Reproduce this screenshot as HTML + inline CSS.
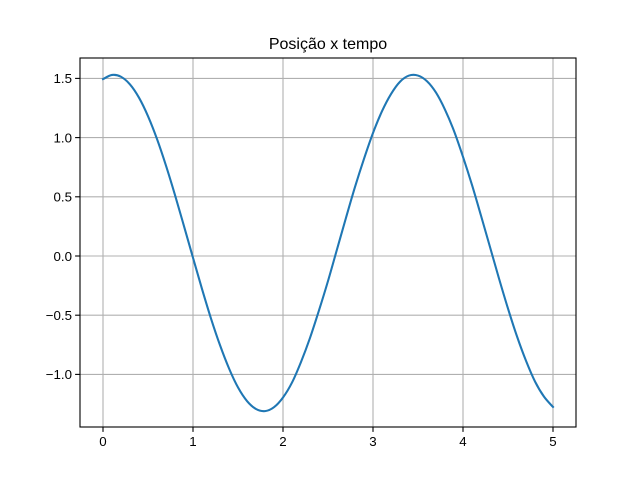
<!DOCTYPE html>
<html><head><meta charset="utf-8"><style>
body{margin:0;background:#fff;}
svg{display:block;font-family:"Liberation Sans","DejaVu Sans",sans-serif;}
</style></head><body>
<svg id="chart" width="640" height="480">
<rect x="0" y="0" width="640" height="480" fill="#fff"/>
<text x="328" y="49" text-anchor="middle" font-size="16">Posição x tempo</text>
<g id="grid"></g>
<g id="ticks"></g>
<g id="series"></g>
<rect x="80" y="58" width="496" height="369" fill="none" stroke="#000" stroke-width="1.1"/>
</svg>
<script>
const times = [0,0.1,0.2,0.3,0.4,0.5,0.6,0.7,0.8,0.9,1.0,1.1,1.2,1.3,1.4,1.5,1.6,1.7,1.8,1.9,2.0,2.1,2.2,2.3,2.4,2.5,2.6,2.7,2.8,2.9,3.0,3.1,3.2,3.3,3.4,3.5,3.6,3.7,3.8,3.9,4.0,4.1,4.2,4.3,4.4,4.5,4.6,4.7,4.8,4.9,5.0];
const positions = [1.494,1.529,1.514,1.449,1.337,1.181,0.988,0.763,0.515,0.252,-0.015,-0.278,-0.528,-0.753,-0.949,-1.110,-1.225,-1.292,-1.310,-1.277,-1.195,-1.069,-0.895,-0.692,-0.459,-0.211,0.056,0.323,0.583,0.821,1.039,1.223,1.368,1.472,1.524,1.524,1.476,1.380,1.236,1.056,0.838,0.600,0.341,0.076,-0.190,-0.444,-0.679,-0.885,-1.060,-1.188,-1.275];
const xTicks = [0,1,2,3,4,5];
const yTicks = [-1.0,-0.5,0.0,0.5,1.0,1.5];
const yTickLabels = ["\u22121.0","\u22120.5","0.0","0.5","1.0","1.5"];

const NS="http://www.w3.org/2000/svg";
function sx(v){return 103+v*90;}
function sy(v){return 256-v*118.4;}
function mk(tag,attrs,parent){const e=document.createElementNS(NS,tag);for(const k in attrs)e.setAttribute(k,attrs[k]);parent.appendChild(e);return e;}
const grid=document.getElementById('grid'),ticks=document.getElementById('ticks'),series=document.getElementById('series');
xTicks.forEach(t=>{
  const x=sx(t);
  const g=mk('line',{x1:x,x2:x,y1:58,y2:427,stroke:'#b0b0b0','stroke-width':1.1},grid);
  
  
  const tk=mk('line',{x1:x,x2:x,y1:427,y2:431.9,stroke:'#000','stroke-width':1.1},ticks);
  
  
  const lb=mk('text',{x:x,y:446,'text-anchor':'middle','font-size':13.3},ticks);
  lb.textContent=String(t);
  
  
});
yTicks.forEach((t,i)=>{
  const y=sy(t);
  const g=mk('line',{x1:80,x2:576,y1:y,y2:y,stroke:'#b0b0b0','stroke-width':1.1},grid);
  
  
  const tk=mk('line',{x1:75.1,x2:80,y1:y,y2:y,stroke:'#000','stroke-width':1.1},ticks);
  
  
  const lb=mk('text',{x:72,y:y+4.8,'text-anchor':'end','font-size':13.3},ticks);
  lb.textContent=yTickLabels[i];
  
  
});
const pts=times.map((t,i)=>[sx(t),sy(positions[i])]);
let d='M'+pts[0][0]+','+pts[0][1];
for(let i=0;i<pts.length-1;i++){
  const p0=pts[Math.max(0,i-1)],p1=pts[i],p2=pts[i+1],p3=pts[Math.min(pts.length-1,i+2)];
  const c1=[p1[0]+(p2[0]-p0[0])/6,p1[1]+(p2[1]-p0[1])/6];
  const c2=[p2[0]-(p3[0]-p1[0])/6,p2[1]-(p3[1]-p1[1])/6];
  d+=' C'+c1[0]+','+c1[1]+' '+c2[0]+','+c2[1]+' '+p2[0]+','+p2[1];
}
const line=mk('path',{d:d,fill:'none',stroke:'#1f77b4','stroke-width':2.08,'stroke-linecap':'square'},series);


</script>
</body></html>
